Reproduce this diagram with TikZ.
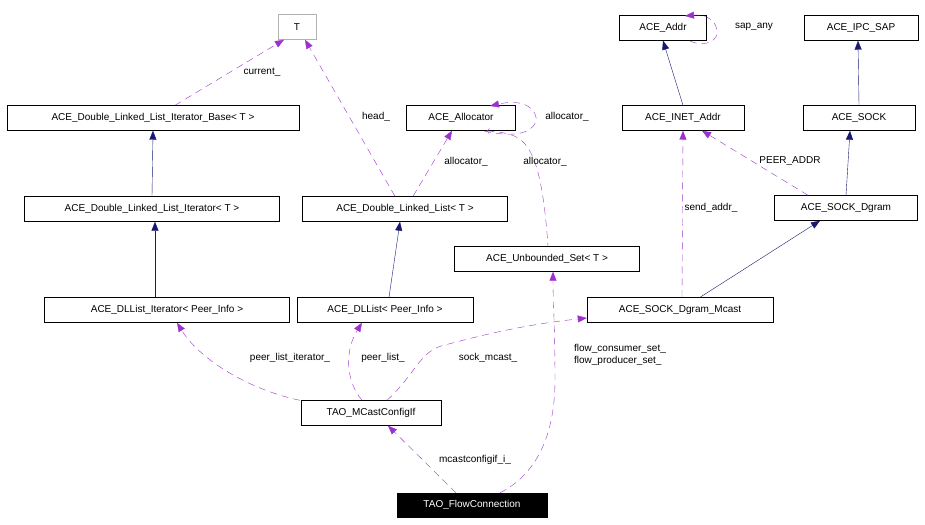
\documentclass[tikz,border=0pt]{standalone}
\usepackage{fontspec}
\setmainfont{Liberation Sans}
\usetikzlibrary{arrows.meta}
\begin{document}
\begin{tikzpicture}[x=1pt,y=-1pt,
 box/.style={draw,rectangle,minimum height=25pt,inner sep=0pt,font=\fontsize{10}{12}\selectfont,fill=white},
 inh/.style={draw={rgb,255:red,25;green,25;blue,112},-{Triangle[length=9pt,width=7pt]}},
 use/.style={draw={rgb,255:red,155;green,50;blue,205},dash pattern=on 7pt off 5pt,-{Triangle[length=9pt,width=7pt]}},
 lab/.style={font=\fontsize{10}{12}\selectfont,inner sep=1pt,align=left}]
\useasboundingbox (0,0) rectangle (925,524);
\node[box,draw=gray!60,minimum width=38pt] (T) at (297,27) {T};
\node[box,minimum width=87pt] (addr) at (663,28) {ACE\_Addr};
\node[box,minimum width=114pt] (ipc) at (861,28) {ACE\_IPC\_SAP};
\node[box,minimum width=292pt] (ib) at (153,118) {ACE\_Double\_Linked\_List\_Iterator\_Base< T >};
\node[box,minimum width=109pt] (alloc) at (461,118) {ACE\_Allocator};
\node[box,minimum width=122pt] (inet) at (683,118) {ACE\_INET\_Addr};
\node[box,minimum width=112pt] (sock) at (859,118) {ACE\_SOCK};
\node[box,minimum width=255pt] (it) at (152,209) {ACE\_Double\_Linked\_List\_Iterator< T >};
\node[box,minimum width=205pt] (dll) at (405,209) {ACE\_Double\_Linked\_List< T >};
\node[box,minimum width=143pt] (dg) at (846,208) {ACE\_SOCK\_Dgram};
\node[box,minimum width=185pt] (us) at (547,259) {ACE\_Unbounded\_Set< T >};
\node[box,minimum width=245pt] (dlit) at (167,310) {ACE\_DLList\_Iterator< Peer\_Info >};
\node[box,minimum width=176pt] (dl) at (385,310) {ACE\_DLList< Peer\_Info >};
\node[box,minimum width=186pt] (mc) at (680,310) {ACE\_SOCK\_Dgram\_Mcast};
\node[box,minimum width=140pt] (cfg) at (371,413) {TAO\_MCastConfigIf};
\node[box,fill=black,text=white,minimum width=150pt,minimum height=24pt] (fc) at (472,505) {TAO\_FlowConnection};
% inheritance
\draw[inh] (it.north) -- (ib.south);
\draw[inh] (dlit.north -| 155,0) -- (it.south -| 155,0);
\draw[inh] (dl.north -| 389,0) -- (dll.south -| 400,0);
\draw[inh] (inet.north) -- (addr.south -| 663,0);
\draw[inh] (sock.north) -- (ipc.south -| 858,0);
\draw[inh] (dg.north) -- (sock.south -| 850,0);
\draw[inh] (mc.north -| 700,0) -- (dg.south -| 820,0);
% usage
\draw[use] (ib.north -| 175,0) -- (T.south -| 284,0);
\node[lab] at (262,72) {current\_};
\draw[use] (dll.north -| 395,0) -- (T.south -| 305,0);
\node[lab] at (376,117) {head\_};
\draw[use] (dll.north -| 413,0) -- (alloc.south -| 452,0);
\node[lab] at (466,162) {allocator\_};
\draw[use] (alloc.south -| 487,0) .. controls (520,135) and (540,130) .. (us.north -| 548,0) [use,<-] ;
\node[lab] at (545,162) {allocator\_};
\draw[use] (484,131) .. controls (510,137) and (530,135) .. (536,122) .. controls (538,110) and (525,98) .. (490,106);
\node[lab] at (567,117) {allocator\_};
\draw[use] (690,41) .. controls (700,46) and (715,44) .. (717,34) .. controls (718,20) and (705,14) .. (685,16);
\node[lab] at (754,27) {sap\_any};
\draw[use] (mc.north -| 682,0) -- (inet.south -| 683,0);
\node[lab] at (711,208) {send\_addr\_};
\draw[use] (dg.north -| 808,0) -- (inet.south -| 702,0);
\node[lab] at (790,161) {PEER\_ADDR};
\draw[use] (cfg.north -| 300,0) .. controls (250,390) and (200,360) .. (dlit.south -| 177,0);
\node[lab] at (290,358) {peer\_list\_iterator\_};
\draw[use] (cfg.north -| 362,0) .. controls (345,380) and (345,350) .. (dl.south -| 362,0);
\node[lab] at (383,358) {peer\_list\_};
\draw[use] (cfg.north -| 387,0) .. controls (415,375) and (420,350) .. (445,345) .. controls (500,330) and (540,323) .. (mc.west |- 0,318);
\node[lab] at (488,358) {sock\_mcast\_};
\draw[use] (fc.north -| 456,0) -- (cfg.south -| 388,0);
\node[lab] at (475,460) {mcastconfigif\_i\_};
\draw[use] (fc.north -| 500,0) .. controls (545,470) and (555,420) .. (555,380) .. controls (555,330) and (553,300) .. (us.south -| 553,0);
\node[lab] at (620,355) {flow\_consumer\_set\_\\flow\_producer\_set\_};
\end{tikzpicture}
\end{document}
